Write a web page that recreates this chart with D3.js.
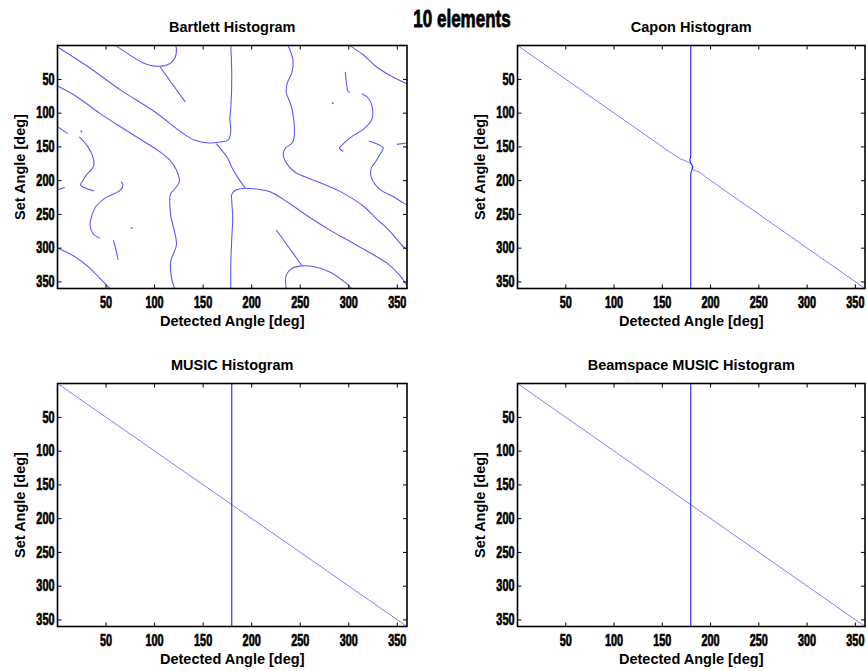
<!DOCTYPE html>
<html>
<head>
<meta charset="utf-8">
<script src="https://cdn.jsdelivr.net/npm/d3@7"></script>
<style>
body { margin: 0; background: #fff; }
.lbl { font-family: "Liberation Sans", Arial, sans-serif; font-weight: bold; font-size: 14.5px; fill: #000; }
.tk text { font-family: "Liberation Sans", sans-serif; font-weight: bold; font-size: 16px; fill: #000; stroke: #000; stroke-width: 0.7px; }
.tk line { stroke: #000; }
.tk path { display: none; }
</style>
</head>
<body>
<script>
// tick values (deg)
var xTicks = [50, 100, 150, 200, 250, 300, 350];
var yTicks = [50, 100, 150, 200, 250, 300, 350];

// Bartlett histogram ridges, [detected, set] in deg
var barA = [[1,3],[32,32],[66,67],[101,99],[128,129],[142,141],[156,145],[170,143],[176,141],[179,129],[178,109],[179,94],[180,45],[179,1]];
var barB = [[61,1],[90,27],[101,31],[114,29],[121,20],[123,5],[122,1]];
var barB2 = [[106,32],[132,84]];
var barC = [[1,61],[20,76],[44,101],[71,126],[92,145],[106,158],[116,170],[123,185],[126,202],[120,215],[117,220],[117,251],[121,276],[123,296],[117,321],[118,345],[121,360]];
var barD1 = [[1,121],[11,131]];
var barD2 = [[23,136],[32,151],[37,166],[38,178],[35,185],[30,193],[26,202],[24,207],[28,211],[38,216]];
var barD3 = [[1,214],[8,211]];
var barE = [[66,202],[68,207],[65,215],[56,222],[49,227],[40,239],[35,257],[34,266],[37,279],[44,286]];
var barF = [[58,289],[60,299],[63,318]];
var barG = [[1,301],[18,313],[32,328],[46,348],[54,360]];
var barH = [[164,146],[176,168],[180,181],[188,200],[194,212]];
var barI = [[179,360],[179,326],[180,286],[181,256],[180,231],[180,221],[184,215],[194,212],[204,213],[219,217],[237,232],[257,252],[281,274],[302,291],[323,308],[340,323],[353,341],[360,355]];
var barJ = [[238,1],[243,22],[242,40],[237,57],[236,69],[242,94],[243,143],[235,153],[233,163],[238,178],[245,188],[250,192],[268,202],[292,217],[316,239],[329,257],[343,276],[357,299],[360,302]];
var barK = [[226,274],[237,296],[252,326]];
var barL = [[236,360],[236,341],[242,331],[252,327],[264,328],[281,336],[298,353],[303,360]];
var barM = [[302,1],[316,15],[329,32],[343,45],[360,57]];
var barN = [[297,40],[298,55],[300,69],[302,70]];
var barO = [[314,72],[321,79],[325,94],[324,111],[316,124],[305,134],[295,146],[291,153],[295,157]];
var barP = [[321,142],[329,146],[336,152],[333,161],[328,173],[324,181],[323,192],[328,207],[336,217],[347,225],[357,234],[360,236]];
var barQ = [[350,147],[360,145]];
var barDots = [[25,128],[77,271],[284,86]];

// Capon
var caponDiagUp = [[1,1],[160,160],[170,169],[174,171],[178,174],[180,175]];
var caponDiagLow = [[181,181],[183,185],[190,189],[197,197],[360,360]];
var caponVert = [[180,1],[180,165],[179,170],[180,175],[182,180],[181,186],[180,190],[180,360]];

// MUSIC
var musicDiag = [[1,1],[360,360]];
var musicVert = [[180,1],[180,360]];

// Beamspace MUSIC
var bsDiag = [[1,1],[360,360]];
var bsVert = [[180,1],[180,360]];

var W = 867, H = 671;
var svg = d3.select("body").append("svg").attr("width", W).attr("height", H);

var light = "#7f7fff", dark = "#2020ff", mid = "#5a5aff";

var panels = [
  { title: "Bartlett Histogram", x0: 57.5, x1: 407, y0: 45.5, y1: 288.5,
    lines: [barA, barB, barB2, barC, barD1, barD2, barD3, barE, barF, barG, barH, barI, barJ, barK, barL, barM, barN, barO, barP, barQ].map(function (p) { return { pts: p, color: mid, w: 1.1 }; }),
    dots: barDots },
  { title: "Capon Histogram", x0: 517.5, x1: 865, y0: 45.5, y1: 288.5,
    lines: [{ pts: caponDiagUp, color: light, w: 1 }, { pts: caponDiagLow, color: light, w: 1 }, { pts: caponVert, color: dark, w: 1.1 }],
    dots: [] },
  { title: "MUSIC Histogram", x0: 57.5, x1: 407, y0: 383.5, y1: 626.5,
    lines: [{ pts: musicDiag, color: light, w: 1 }, { pts: musicVert, color: dark, w: 1.1 }],
    dots: [] },
  { title: "Beamspace MUSIC Histogram", x0: 517.5, x1: 865, y0: 383.5, y1: 626.5,
    lines: [{ pts: bsDiag, color: light, w: 1 }, { pts: bsVert, color: dark, w: 1.1 }],
    dots: [] }
];

var sx = 0.68; // squeeze for the narrow tick font

panels.forEach(function (p, i) {
  var x = d3.scaleLinear().domain([0.5, 360.5]).range([p.x0, p.x1]);
  var y = d3.scaleLinear().domain([0.5, 360.5]).range([p.y0, p.y1]);

  svg.append("clipPath").attr("id", "clip" + i)
    .append("rect").attr("x", p.x0).attr("y", p.y0)
    .attr("width", p.x1 - p.x0).attr("height", p.y1 - p.y0);

  var g = svg.append("g").attr("clip-path", "url(#clip" + i + ")");
  var line = d3.line().x(function (d) { return x(d[0]); }).y(function (d) { return y(d[1]); })
    .curve(i == 0 ? d3.curveCatmullRom.alpha(0.5) : d3.curveLinear);

  p.lines.forEach(function (l) {
    g.append("path").attr("d", line(l.pts)).attr("fill", "none")
      .attr("stroke", l.color).attr("stroke-width", l.w);
  });
  g.selectAll("rect.dot").data(p.dots).enter().append("rect")
    .attr("x", function (d) { return x(d[0]) - 0.8; })
    .attr("y", function (d) { return y(d[1]) - 0.8; })
    .attr("width", 1.6).attr("height", 1.6).attr("fill", mid);

  // axes, ticks pointing inward
  var bottom = svg.append("g").attr("class", "tk").attr("transform", "translate(0," + p.y1 + ")")
    .call(d3.axisBottom(x).tickValues(xTicks).tickSizeInner(-4).tickSizeOuter(0).tickPadding(8.6));
  bottom.selectAll("text").attr("transform", "scale(" + sx + ",1)");

  svg.append("g").attr("class", "tk").attr("transform", "translate(0," + p.y0 + ")")
    .call(d3.axisTop(x).tickValues(xTicks).tickSizeInner(-4).tickSizeOuter(0).tickFormat(""));

  var left = svg.append("g").attr("class", "tk").attr("transform", "translate(" + p.x0 + ",0)")
    .call(d3.axisLeft(y).tickValues(yTicks).tickSizeInner(-4).tickSizeOuter(0).tickPadding(3));
  left.selectAll("text").attr("x", -3 / sx).attr("transform", "scale(" + sx + ",1)");

  svg.append("g").attr("class", "tk").attr("transform", "translate(" + p.x1 + ",0)")
    .call(d3.axisRight(y).tickValues(yTicks).tickSizeInner(-4).tickSizeOuter(0).tickFormat(""));

  svg.append("rect").attr("x", p.x0).attr("y", p.y0)
    .attr("width", p.x1 - p.x0).attr("height", p.y1 - p.y0)
    .attr("fill", "none").attr("stroke", "#000").attr("stroke-width", 1.6);

  var cx = (p.x0 + p.x1) / 2, cy = (p.y0 + p.y1) / 2;
  svg.append("text").attr("class", "lbl").attr("x", cx).attr("y", p.y0 - 13.5)
    .attr("text-anchor", "middle").text(p.title);
  svg.append("text").attr("class", "lbl").attr("x", cx).attr("y", p.y1 + 37.5)
    .attr("text-anchor", "middle").text("Detected Angle [deg]");
  svg.append("text").attr("class", "lbl")
    .attr("transform", "translate(" + (p.x0 - 33) + "," + cy + ") rotate(-90)")
    .attr("text-anchor", "middle").text("Set Angle [deg]");
});

svg.append("text")
  .attr("transform", "translate(462,27) scale(0.74,1)")
  .attr("text-anchor", "middle")
  .style("font-family", "'Liberation Sans', sans-serif")
  .style("font-weight", "bold").style("font-size", "23px")
  .style("stroke", "#000").style("stroke-width", "0.8px")
  .text("10 elements");
</script>
</body>
</html>
